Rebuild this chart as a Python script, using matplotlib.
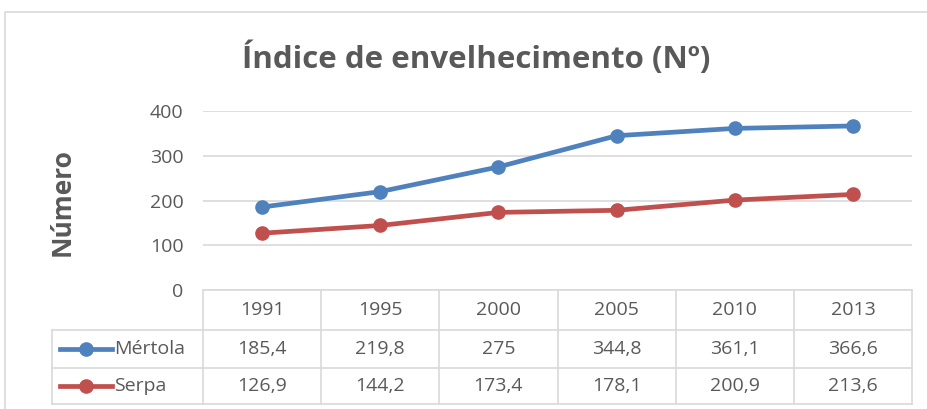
import matplotlib.pyplot as plt
from matplotlib.patches import Rectangle
from matplotlib.lines import Line2D

years = ["1991", "1995", "2000", "2005", "2010", "2013"]
mertola = [185.4, 219.8, 275, 344.8, 361.1, 366.6]
serpa = [126.9, 144.2, 173.4, 178.1, 200.9, 213.6]
series_names = ["Mértola", "Serpa"]
series_colors = ["#4F81BD", "#C0504D"]
yticks = [0, 100, 200, 300, 400]

plt.rcParams["font.family"] = ["Open Sans", "DejaVu Sans"]
TXT = "#595959"
GRID = "#D9D9D9"
FS = 14

W, H = 928, 409
fig = plt.figure(figsize=(W / 100, H / 100), dpi=100)


def fx(px):
    return px / W


def fy(py):
    return 1 - py / H


# outer chart border (only top/left visible)
fig.patches.append(Rectangle((fx(5), fy(440)), fx(960), 428 / H, transform=fig.transFigure,
                             fill=False, edgecolor="#D9D9D9", lw=1.2, clip_on=False))

# main plot area
left, right, top, bottom = 203, 912, 111, 290
ax = fig.add_axes([fx(left), fy(bottom), fx(right - left), (bottom - top) / H])
x = list(range(len(years)))
for vals, c in zip([mertola, serpa], series_colors):
    ax.plot(x, vals, color=c, lw=3.4, marker="o", ms=9.5, solid_capstyle="round")
ax.set_xlim(-0.5, len(years) - 0.5)
ax.set_ylim(0, 400)
ax.set_yticks(yticks)
ax.set_yticklabels([str(t) for t in yticks], color=TXT, fontsize=FS)
ax.set_xticks([])
ax.grid(axis="y", color=GRID, lw=1.2)
ax.set_axisbelow(True)
ax.tick_params(axis="y", length=0, pad=14)
for s in ax.spines.values():
    s.set_visible(False)

fig.text(fx(476), fy(58), "Índice de envelhecimento (Nº)", ha="center", va="center",
         fontsize=22.5, fontweight="bold", color=TXT)
fig.text(fx(62), fy(202), "Número", ha="center", va="center", rotation=90,
         fontsize=19, fontweight="bold", color=TXT)

# data table drawn below the axis
colw = (right - left) / len(years)
row_y = [290, 330, 368, 404]
line_kw = dict(color=GRID, lw=1.2, transform=fig.transFigure)
fig.add_artist(Line2D([fx(left), fx(right)], [fy(row_y[0])] * 2, **line_kw))
for ry in row_y[1:]:
    fig.add_artist(Line2D([fx(52), fx(right)], [fy(ry)] * 2, **line_kw))
for i in range(len(years) + 1):
    xx = left + i * colw
    fig.add_artist(Line2D([fx(xx)] * 2, [fy(row_y[0]), fy(row_y[-1])], **line_kw))
fig.add_artist(Line2D([fx(52)] * 2, [fy(row_y[1]), fy(row_y[-1])], **line_kw))

for i, yr in enumerate(years):
    cx = left + (i + 0.5) * colw
    fig.text(fx(cx), fy((row_y[0] + row_y[1]) / 2), yr, ha="center", va="center",
             fontsize=FS, color=TXT)

for r, (name, vals, c) in enumerate(zip(series_names, [mertola, serpa], series_colors)):
    cy = (row_y[r + 1] + row_y[r + 2]) / 2
    fig.add_artist(Line2D([fx(60), fx(112)], [fy(cy)] * 2, color=c, lw=3.4,
                          transform=fig.transFigure))
    fig.add_artist(Line2D([fx(86)], [fy(cy)], color=c, marker="o", ms=9.5,
                          transform=fig.transFigure))
    fig.text(fx(114), fy(cy), name, ha="left", va="center", fontsize=FS, color=TXT)
    for i, v in enumerate(vals):
        cx = left + (i + 0.5) * colw
        txt = ("%g" % v).replace(".", ",")
        fig.text(fx(cx), fy(cy), txt, ha="center", va="center", fontsize=FS, color=TXT)

fig.savefig("out.png", dpi=100, facecolor="white")
